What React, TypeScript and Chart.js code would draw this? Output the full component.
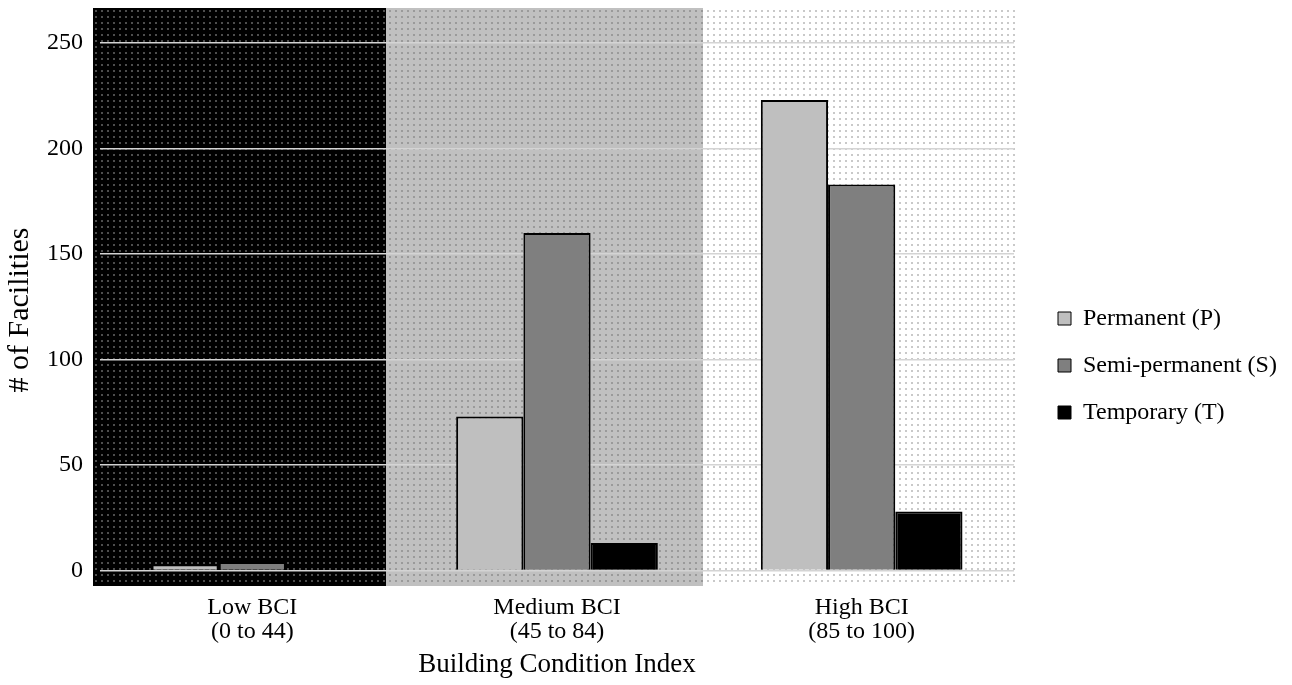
import { useEffect, useRef } from 'react';
import { Chart, registerables } from 'chart.js';

Chart.register(...registerables);

// Facility counts per Building Condition Index band
const categories = [
  ['Low BCI', '(0 to 44)'],
  ['Medium BCI', '(45 to 84)'],
  ['High BCI', '(85 to 100)'],
];
const seriesNames = ['Permanent (P)', 'Semi-permanent (S)', 'Temporary (T)'];
const permanent = [3, 73, 223];
const semiPermanent = [4, 160, 183];
const temporary = [0, 13, 28];
const yTicks = [0, 50, 100, 150, 200, 250];
const yTitle = '# of Facilities';

const seriesColors = ['#bfbfbf', '#7f7f7f', '#000000'];
const FONT = '"Liberation Serif", "Times New Roman", serif';

// Shaded background zones behind the plot, with a fine dot screen on top
const zonePlugin = {
  id: 'zones',
  beforeDraw(chart: any) {
    const { ctx, chartArea: ca } = chart;
    const left = ca.left - 7;
    const right = ca.right + 6;
    const edges = [left, ca.left + ca.width * 0.313, ca.left + ca.width * 0.66, right];
    const fills = ['#000000', '#c0c0c0', '#ffffff'];
    const dots = ['#4d4d4d', '#9a9a9a', '#c9c9c9'];
    ctx.save();
    for (let i = 0; i < 3; i++) {
      const x0 = Math.round(edges[i]);
      const x1 = Math.round(edges[i + 1]);
      ctx.fillStyle = fills[i];
      ctx.fillRect(x0, ca.top, x1 - x0, ca.bottom - ca.top);
      ctx.fillStyle = dots[i];
      for (let y = Math.round(ca.top) + 2; y < ca.bottom - 1; y += 6) {
        for (let x = Math.round(left) + 2; x < right - 1; x += 6) {
          if (x >= x0 && x < x1) ctx.fillRect(x, y, 2, 2);
        }
      }
    }
    ctx.restore();
  },
};

// Vertical value-axis title, set a little below the plot's middle
const yTitlePlugin = {
  id: 'yTitle',
  afterDraw(chart: any) {
    const { ctx, chartArea: ca } = chart;
    ctx.save();
    ctx.translate(20, (ca.top + ca.bottom) / 2 + 13);
    ctx.rotate(-Math.PI / 2);
    ctx.font = `30px ${FONT}`;
    ctx.fillStyle = '#000000';
    ctx.textAlign = 'center';
    ctx.textBaseline = 'middle';
    ctx.fillText(yTitle, 0, 0);
    ctx.restore();
  },
};

export default function App() {
  const canvasRef = useRef<HTMLCanvasElement>(null);

  useEffect(() => {
    if (!canvasRef.current) return;
    const values = [permanent, semiPermanent, temporary];
    const chart = new Chart(canvasRef.current, {
      type: 'bar',
      data: {
        labels: categories,
        datasets: seriesNames.map((name, i) => ({
          label: name,
          data: values[i],
          backgroundColor: seriesColors[i],
          borderColor: '#000000',
          borderWidth: 2,
          barPercentage: 1,
          categoryPercentage: 0.662,
        })),
      },
      options: {
        animation: false,
        responsive: true,
        maintainAspectRatio: false,
        layout: { padding: { top: 8, left: 0, right: 7, bottom: 0 } },
        font: { family: FONT },
        plugins: {
          tooltip: { enabled: false },
          legend: {
            position: 'right',
            maxWidth: 250,
            title: {
              display: true,
              text: '',
              font: { family: FONT, size: 20, lineHeight: 1.2 },
              padding: { top: 7, bottom: 7 },
            },
            labels: {
              color: '#000000',
              font: { family: FONT, size: 24 },
              boxWidth: 13,
              boxHeight: 13,
              padding: 23,
              generateLabels: (c: any) =>
                (Chart.defaults.plugins.legend.labels as any)
                  .generateLabels(c)
                  .map((l: any) => ({ ...l, lineWidth: 1 })),
            },
          },
        },
        scales: {
          x: {
            grid: { display: false },
            border: { display: false },
            ticks: {
              color: '#000000',
              font: { family: FONT, size: 24, lineHeight: 1 },
              padding: 2,
              maxRotation: 0,
            },
            title: {
              display: true,
              text: 'Building Condition Index',
              color: '#000000',
              font: { family: FONT, size: 27 },
              padding: { top: 4, bottom: 4 },
            },
            afterFit: (s: any) => {
              s.height = 99;
              s.paddingLeft = 0;
              s.paddingRight = 0;
            },
          },
          y: {
            min: -7.35,
            max: 266.6,
            grid: { color: '#d4d4d4', lineWidth: 1.5, drawTicks: false },
            border: { display: false },
            afterBuildTicks: (s: any) => {
              s.ticks = yTicks.map((v) => ({ value: v }));
            },
            ticks: {
              color: '#000000',
              font: { family: FONT, size: 24 },
              padding: 17,
              callback: (v: any) => String(v),
            },
            title: { display: false },
            afterFit: (s: any) => {
              s.width = 100;
              s.paddingTop = 0;
              s.paddingBottom = 0;
            },
          },
          gap: {
            type: 'linear',
            position: 'right',
            display: true,
            grid: { display: false },
            border: { display: false },
            ticks: { display: false },
            afterFit: (s: any) => {
              s.width = 21;
              s.paddingTop = 0;
              s.paddingBottom = 0;
            },
          },
        },
      } as any,
      plugins: [zonePlugin, yTitlePlugin],
    });
    return () => chart.destroy();
  }, []);

  return (
    <div style={{ position: 'fixed', left: 0, top: 0, width: 1292, height: 685 }}>
      <canvas ref={canvasRef} />
    </div>
  );
}
